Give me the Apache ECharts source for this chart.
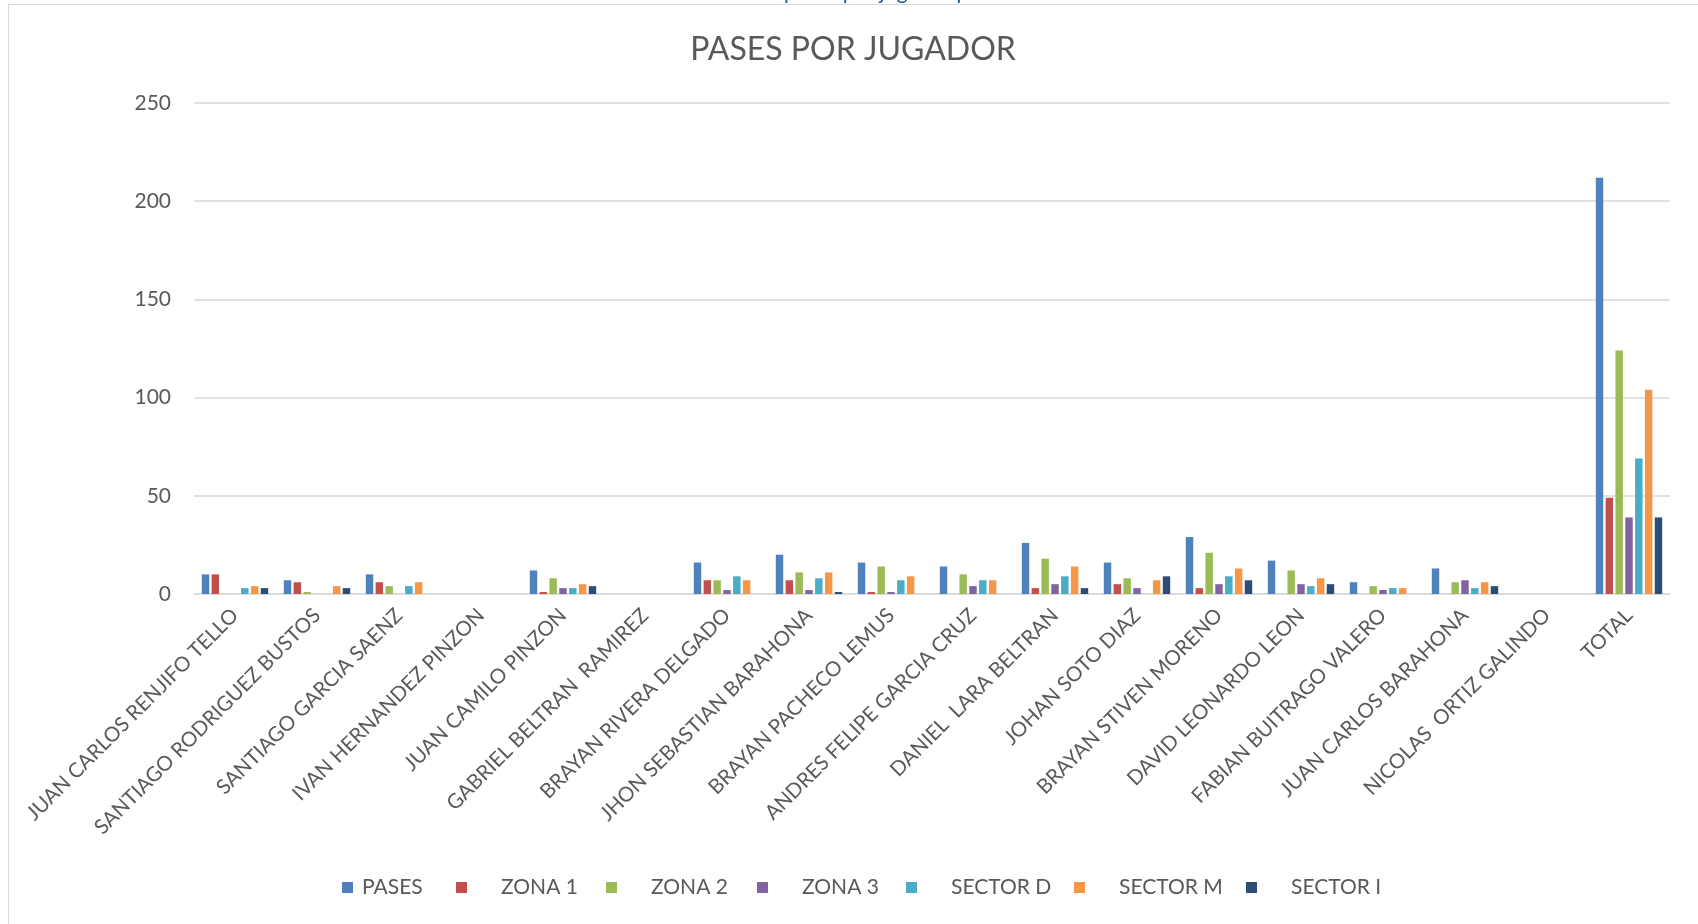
<!DOCTYPE html>
<html>
<head>
<meta charset="utf-8">
<script src="https://cdn.jsdelivr.net/npm/echarts@6/dist/echarts.min.js"></script>
<style>
  html, body { margin: 0; padding: 0; background: #ffffff; overflow: hidden; }
  #chart { position: absolute; left: 0; top: 0; width: 1698px; height: 924px; }
  #frame { position: absolute; left: 8px; top: 4px; width: 1720px; height: 960px;
           border-top: 1.5px solid #d9d9d9; border-left: 1.5px solid #d9d9d9; pointer-events: none; }
  #caption { position: absolute; left: 785px; top: -21px; font-family: Lato, "Noto Sans", sans-serif;
             font-style: italic; font-size: 23px; line-height: 23px; color: #2E5C99; white-space: pre; }
</style>
</head>
<body>
<div id="chart"></div>
<div id="frame"></div>
<div id="caption">pases por jugador por</div>
<script>
// Players, plus the overall total as the last category
const categories = [
  'JUAN CARLOS RENJIFO TELLO', 'SANTIAGO RODRIGUEZ BUSTOS', 'SANTIAGO GARCIA SAENZ',
  'IVAN HERNANDEZ PINZON', 'JUAN CAMILO PINZON', 'GABRIEL BELTRAN  RAMIREZ',
  'BRAYAN RIVERA DELGADO', 'JHON SEBASTIAN BARAHONA', 'BRAYAN PACHECO LEMUS',
  'ANDRES FELIPE GARCIA CRUZ', 'DANIEL  LARA BELTRAN', 'JOHAN SOTO DIAZ',
  'BRAYAN STIVEN MORENO', 'DAVID LEONARDO LEON', 'FABIAN BUITRAGO VALERO',
  'JUAN CARLOS BARAHONA', 'NICOLAS  ORTIZ GALINDO', 'TOTAL'
];

const seriesNames = ['PASES', 'ZONA 1', 'ZONA 2', 'ZONA 3', 'SECTOR D', 'SECTOR M', 'SECTOR I'];

const pases    = [10, 7, 10, 0, 12, 0, 16, 20, 16, 14, 26, 16, 29, 17, 6, 13, 0, 212];
const zona1    = [10, 6, 6, 0, 1, 0, 7, 7, 1, 0, 3, 5, 3, 0, 0, 0, 0, 49];
const zona2    = [0, 1, 4, 0, 8, 0, 7, 11, 14, 10, 18, 8, 21, 12, 4, 6, 0, 124];
const zona3    = [0, 0, 0, 0, 3, 0, 2, 2, 1, 4, 5, 3, 5, 5, 2, 7, 0, 39];
const sectorD  = [3, 0, 4, 0, 3, 0, 9, 8, 7, 7, 9, 0, 9, 4, 3, 3, 0, 69];
const sectorM  = [4, 4, 6, 0, 5, 0, 7, 11, 9, 7, 14, 7, 13, 8, 3, 6, 0, 104];
const sectorI  = [3, 3, 0, 0, 4, 0, 0, 1, 0, 0, 3, 9, 7, 5, 0, 4, 0, 39];

const yTicks = { min: 0, max: 250, interval: 50 };

const seriesData = [pases, zona1, zona2, zona3, sectorD, sectorM, sectorI];
const colors = ['#4F81BD', '#C0504D', '#9BBB59', '#8064A2', '#4BACC6', '#F79646', '#2C4D75'];

const FONT = 'Lato, "Noto Sans", sans-serif';
const GREY = '#595959';

// One legend block per series so each entry sits where the row layout wants it
const legendLeft = [342, 456, 606, 757, 906, 1074, 1246];
const legendPad  = [4, 29, 29, 29, 29, 29, 29];

const legends = seriesNames.map((name, i) => ({
  data: [name],
  left: legendLeft[i],
  top: 877,
  padding: 0,
  itemWidth: 11,
  itemHeight: 11,
  icon: 'rect',
  selectedMode: false,
  formatter: n => '{t|' + n + '}',
  textStyle: {
    rich: { t: { padding: [0, 0, 0, legendPad[i]], fontSize: 21, color: GREY, fontFamily: FONT } }
  }
}));

const chart = echarts.init(document.getElementById('chart'), null, { renderer: 'canvas' });

chart.setOption({
  animation: false,
  backgroundColor: '#ffffff',
  color: colors,
  title: {
    text: 'PASES POR JUGADOR',
    left: 853,
    top: 34,
    padding: 0,
    textAlign: 'center',
    textStyle: { fontFamily: FONT, fontSize: 32, fontWeight: 'normal', color: GREY }
  },
  legend: legends,
  grid: { left: 194, right: 28, top: 103, bottom: 330, containLabel: false },
  xAxis: {
    type: 'category',
    data: categories,
    axisLine: { show: true, lineStyle: { color: '#d9d9d9', width: 1.5 } },
    axisTick: { show: false },
    axisLabel: {
      interval: 0, rotate: 45, margin: 18,
      fontFamily: FONT, fontSize: 20.5, color: GREY
    }
  },
  yAxis: {
    type: 'value',
    min: yTicks.min, max: yTicks.max, interval: yTicks.interval,
    axisLine: { show: false },
    axisTick: { show: false },
    axisLabel: { margin: 23, fontFamily: FONT, fontSize: 21, color: GREY },
    splitLine: { lineStyle: { color: '#d9d9d9', width: 1.5 } }
  },
  series: seriesNames.map((name, i) => ({
    name: name,
    type: 'bar',
    data: seriesData[i],
    barGap: '32%',
    barCategoryGap: '19%',
    itemStyle: { color: colors[i] }
  }))
});
</script>
</body>
</html>
